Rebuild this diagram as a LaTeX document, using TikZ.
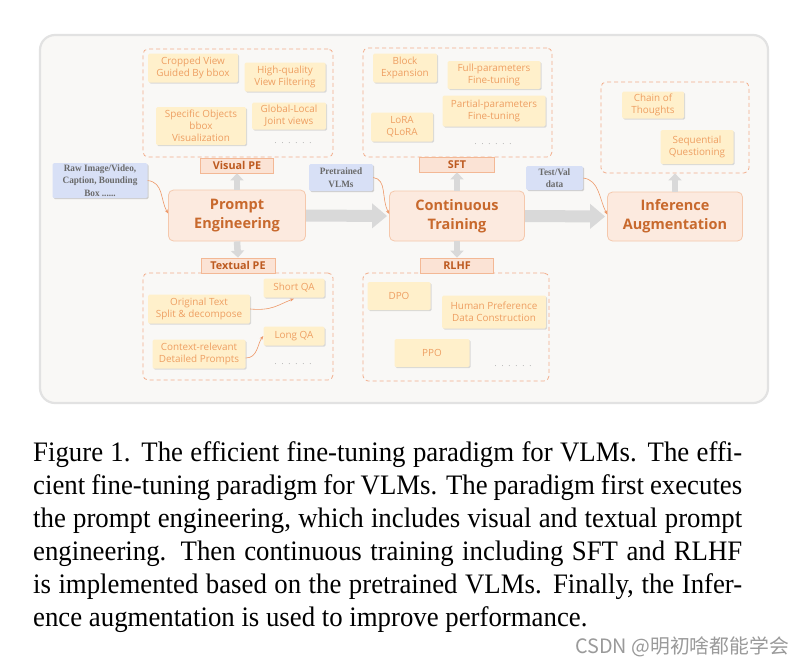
\documentclass[tikz,border=0pt]{standalone}
\usepackage{fontspec}
\setmainfont{Liberation Serif}[FakeStretch=0.95]
\newfontfamily\dsans{Open Sans}
\newfontfamily\dotfont[LetterSpace=60]{Open Sans}
\newfontfamily\cjk{Noto Sans CJK SC}
\usetikzlibrary{arrows.meta,shadows,calc}
\definecolor{panelfill}{HTML}{F9F8F6}
\definecolor{panelline}{HTML}{E2E2E2}
\definecolor{mainfill}{HTML}{FCEADF}
\definecolor{mainline}{HTML}{F5C8AC}
\definecolor{maintext}{HTML}{C8692D}
\definecolor{labfill}{HTML}{FBE3D5}
\definecolor{labline}{HTML}{F3B895}
\definecolor{labtext}{HTML}{BD5A20}
\definecolor{yfill}{HTML}{FFF0CB}
\definecolor{ytext}{HTML}{EE9F62}
\definecolor{dashc}{HTML}{F2AE8C}
\definecolor{bfill}{HTML}{D8E0F6}
\definecolor{btext}{HTML}{6A6A6A}
\definecolor{garrow}{HTML}{D9D9D9}
\definecolor{thinc}{HTML}{EE9868}
\definecolor{dotc}{HTML}{A8A8A8}
\definecolor{wmark}{HTML}{9A9A9A}
\tikzset{
  mainbox/.style={draw=mainline, line width=0.8pt, fill=mainfill, rounded corners=5pt,
    text=maintext, align=center, font=\dsans\bfseries\fontsize{14.5}{19}\selectfont, inner sep=0pt},
  labbox/.style={draw=labline, line width=0.7pt, fill=labfill, text=labtext,
    font=\dsans\bfseries\fontsize{10.8}{12}\selectfont, inner sep=0pt},
  ybox/.style={fill=yfill, text=ytext, align=center, rounded corners=1.5pt,
    font=\dsans\fontsize{9.9}{12}\selectfont, inner sep=0pt,
    drop shadow={shadow xshift=1.2pt, shadow yshift=-1.2pt, fill=black!30, opacity=0.45}},
  bbox/.style={fill=bfill, text=btext, align=center, rounded corners=1.5pt,
    font=\bfseries\fontsize{9.7}{12.5}\selectfont, inner sep=0pt,
    drop shadow={shadow xshift=1.2pt, shadow yshift=-1.2pt, fill=black!35, opacity=0.5}},
  dashbox/.style={draw=dashc, dash pattern=on 4pt off 3pt, line width=0.8pt, rounded corners=5pt, inner sep=0pt},
  dotsn/.style={text=dotc, font=\dotfont\fontsize{8}{8}\selectfont, inner sep=0pt},
  bigarrow/.style={draw=garrow, line width=12pt, -{Triangle[length=15pt,width=24pt]}},
  smallarrow/.style={draw=garrow, line width=6.5pt, -{Triangle[length=7pt,width=13pt]}},
  thinarrow/.style={draw=thinc, line width=0.6pt, -{Stealth[length=4pt,width=3pt]}},
  capline/.style={anchor=base west, inner sep=0pt, font=\fontsize{28.2}{33}\selectfont}
}
\begin{document}
\begin{tikzpicture}[x=1pt,y=-1pt]
\useasboundingbox (0,0) rectangle (799,664);
\fill[white] (0,0) rectangle (799,664);
% panel
\draw[panelline, line width=2.2pt, fill=panelfill, rounded corners=15pt] (40,35) rectangle (768,403);

% dashed group boxes
\node[dashbox, minimum width=190pt, minimum height=108pt] (vdash) at (238,103) {};
\node[dashbox, minimum width=189pt, minimum height=109pt] (sdash) at (457.5,102.5) {};
\node[dashbox, minimum width=148pt, minimum height=91pt] (idash) at (675,127.5) {};
\node[dashbox, minimum width=190pt, minimum height=107pt] (tdash) at (238,326.5) {};
\node[dashbox, minimum width=186pt, minimum height=108pt] (rdash) at (456,327) {};

% visual PE items
\node[ybox, minimum width=90pt, minimum height=29pt] (cv) at (193,68) {Cropped View\\Guided By bbox};
\node[ybox, minimum width=81pt, minimum height=29pt] (hq) at (285,77) {High-quality\\View Filtering};
\node[ybox, minimum width=90pt, minimum height=38pt] (so) at (201,126) {Specific Objects\\bbox\\Visualization};
\node[ybox, minimum width=74pt, minimum height=27pt] (gl) at (289,116) {Global-Local\\Joint views};
\node[dotsn] (d1) at (293,143) {......};

% SFT items
\node[ybox, minimum width=64pt, minimum height=29pt] (be) at (405,68) {Block\\Expansion};
\node[ybox, minimum width=93pt, minimum height=28pt] (fp) at (494,75) {Full-parameters\\Fine-tuning};
\node[ybox, minimum width=103pt, minimum height=31pt] (pp) at (494,111) {Partial-parameters\\Fine-tuning};
\node[ybox, minimum width=62pt, minimum height=29pt] (lq) at (402,127) {LoRA\\QLoRA};
\node[dotsn] (d2) at (493,144) {......};

% inference items
\node[ybox, minimum width=62pt, minimum height=27pt] (cot) at (653,105) {Chain of\\Thoughts};
\node[ybox, minimum width=73pt, minimum height=34pt] (sq) at (697,147) {Sequential\\Questioning};

% textual PE items
\node[ybox, minimum width=61pt, minimum height=19pt] (sqa) at (294,288) {Short QA};
\node[ybox, minimum width=102pt, minimum height=29pt] (ot) at (199,309) {Original Text\\Split \& decompose};
\node[ybox, minimum width=61pt, minimum height=19pt] (lqa) at (294,336) {Long QA};
\node[ybox, minimum width=93pt, minimum height=29pt] (cr) at (199,354) {Context-relevant\\Detailed Prompts};
\node[dotsn] (d3) at (293,364) {......};

% RLHF items
\node[ybox, minimum width=63pt, minimum height=28pt] (dpo) at (399,296) {DPO};
\node[ybox, minimum width=104pt, minimum height=33pt] (hp) at (494,312) {Human Preference\\Data Construction};
\node[ybox, minimum width=75pt, minimum height=28pt] (ppo) at (432,353) {PPO};
\node[dotsn] (d4) at (513,366) {......};

% labels
\node[labbox, minimum width=73pt, minimum height=15pt] (vpe) at (237,165.5) {Visual PE};
\node[labbox, minimum width=75pt, minimum height=15pt] (sft) at (457,164.5) {SFT};
\node[labbox, minimum width=74pt, minimum height=15pt] (tpe) at (238,265.5) {Textual PE};
\node[labbox, minimum width=73pt, minimum height=15pt] (rlhf) at (457,265.5) {RLHF};

% main boxes
\node[mainbox, minimum width=137pt, minimum height=51pt] (pe) at (237,215.5) {Prompt\\Engineering};
\node[mainbox, minimum width=135pt, minimum height=50pt] (ct) at (457,216) {Continuous\\Training};
\node[mainbox, minimum width=135pt, minimum height=49pt] (ia) at (675,216.5) {Inference\\Augmentation};

% blue input boxes
\node[bbox, minimum width=95pt, minimum height=35pt] (raw) at (100,180.5) {Raw Image/Video,\\Caption, Bounding\\Box ......};
\node[bbox, minimum width=64pt, minimum height=27pt] (pre) at (341,177.5) {Pretrained\\VLMs};
\node[bbox, minimum width=57pt, minimum height=24pt] (tv) at (554.5,178) {Test/Val\\data};

% gray arrows
\draw[bigarrow, shorten >=2pt] (pe.east) -- (ct.west);
\draw[bigarrow, shorten >=2pt] (ct.east) -- (ia.west);
\draw[smallarrow] (pe.north) -- (vpe.south);
\draw[smallarrow] (pe.south) -- (tpe.north);
\draw[smallarrow] (ct.north) -- (sft.south);
\draw[smallarrow] (ct.south) -- (rlhf.north);
\draw[smallarrow] (ia.north) -- (idash.south);

% thin curved arrows
\draw[thinarrow] (raw.east) .. controls +(16,2) and +(-8,-14) .. ($(pe.west)+(0,-2)$);
\draw[thinarrow] (pre.east) .. controls +(14,2) and +(-8,-16) .. ($(ct.west)+(0,-2)$);
\draw[thinarrow] (tv.east) .. controls +(16,2) and +(-8,-16) .. ($(ia.west)+(0,-2)$);
\draw[thinarrow] (ot.east) .. controls +(22,2) and +(-16,6) .. ($(sqa.south)+(0,1)$);
\draw[thinarrow] ($(cr.east)+(0,4)$) .. controls +(12,0) and +(-6,8) .. (lqa.west);

% caption
\node[capline] (c1) at (33,461) {\makebox[709pt][s]{Figure 1. The efficient fine-tuning paradigm for VLMs. The effi-}};
\node[capline] (c2) at (33,494) {\makebox[709pt][s]{cient fine-tuning paradigm for VLMs. The paradigm first executes}};
\node[capline] (c3) at (33,527) {\makebox[709pt][s]{the prompt engineering, which includes visual and textual prompt}};
\node[capline] (c4) at (33,560) {\makebox[709pt][s]{engineering. Then continuous training including SFT and RLHF}};
\node[capline] (c5) at (33,593) {\makebox[709pt][s]{is implemented based on the pretrained VLMs. Finally, the Infer-}};
\node[capline] (c6) at (33,626) {ence augmentation is used to improve performance.};

\node[anchor=base east, inner sep=0pt, text=wmark, font=\cjk\fontsize{19.8}{19.8}\selectfont] (wm) at (789,653) {CSDN @明初啥都能学会};
\end{tikzpicture}
\end{document}
